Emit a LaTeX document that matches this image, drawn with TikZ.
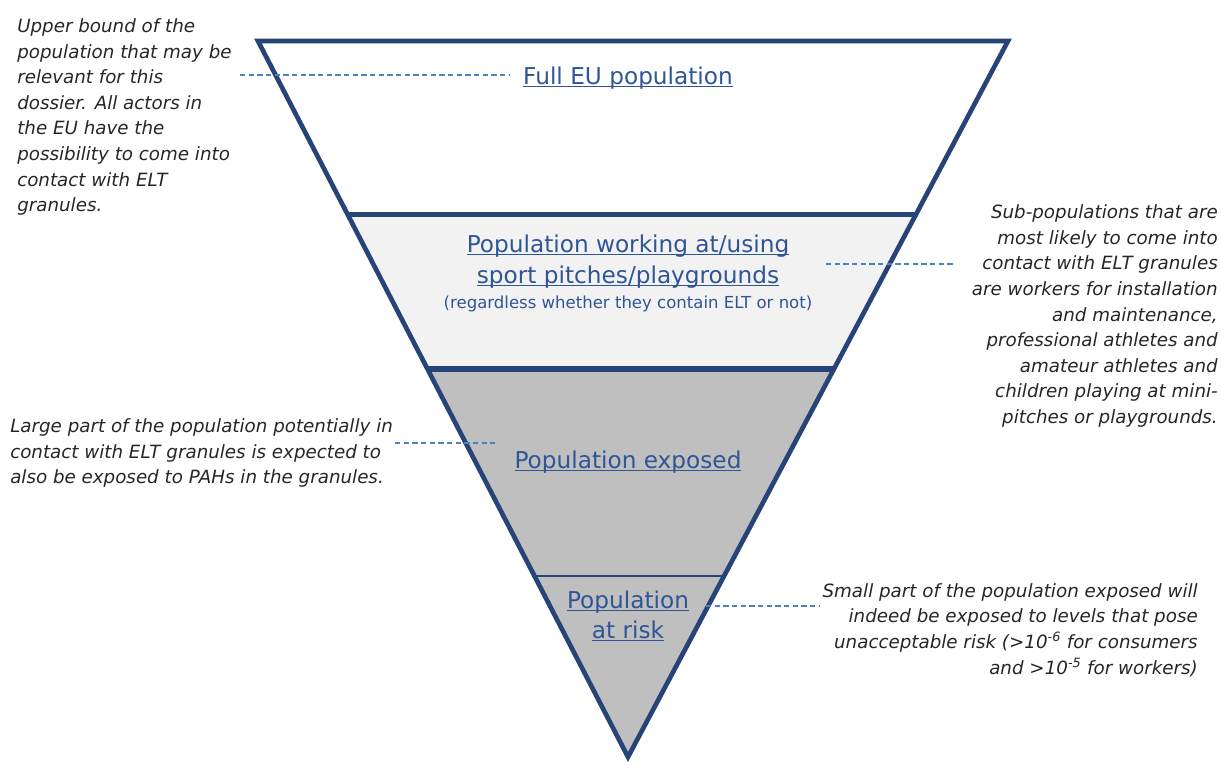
\documentclass[tikz,border=0pt]{standalone}
\usepackage{fontspec}
\setmainfont{DejaVu Sans}
\usetikzlibrary{positioning,calc}

\definecolor{rimblue}{RGB}{38,68,120}
\definecolor{lblblue}{RGB}{47,85,151}
\definecolor{leadblue}{RGB}{79,129,189}
\definecolor{bandlight}{RGB}{242,242,242}
\definecolor{bandgrey}{RGB}{191,191,191}
\newcommand{\ulab}[1]{\underline{\smash{#1}}}

\begin{document}
\begin{tikzpicture}[x=0.75pt,y=-0.75pt,
    lbl/.style={text=lblblue,font=\fontsize{17.4}{23.5}\selectfont,align=center,inner sep=0pt},
    note/.style={text=black!85,font=\itshape\fontsize{13.7}{19.2}\selectfont,inner sep=0pt},
    lead/.style={leadblue,line width=0.8pt,dash pattern=on 4pt off 2.5pt},
    rim/.style={rimblue,line width=3.5pt,line join=miter}]
    \useasboundingbox (0,0) rectangle (1221,765);

    \coordinate (tl)   at (258,41);
    \coordinate (tr)   at (1008,41);
    \coordinate (apex) at (628,757);
    \coordinate (a1) at ($(tl)!0.242!(apex)$);
    \coordinate (b1) at ($(tr)!0.242!(apex)$);
    \coordinate (a2) at ($(tl)!0.458!(apex)$);
    \coordinate (b2) at ($(tr)!0.458!(apex)$);
    \coordinate (a3) at ($(tl)!0.747!(apex)$);
    \coordinate (b3) at ($(tr)!0.747!(apex)$);

    % bands of the funnel
    \fill[bandlight] (a1) -- (b1) -- (b2) -- (a2) -- cycle;
    \fill[bandgrey]  (a2) -- (b2) -- (apex) -- cycle;
    \draw[rim] (tl) -- (tr) -- (apex) -- cycle;
    \draw[rimblue,line width=3.9pt] (a1) -- (b1);
    \draw[rimblue,line width=3.9pt] (a2) -- (b2);
    \draw[rimblue,line width=1.8pt] (a3) -- (b3);

    % labels in the funnel
    \node[lbl] (full) at (628,86)  {\ulab{Full EU population}};
    \node[lbl] (work) at (628,269.5) {\ulab{Population working at/using}\\\ulab{sport pitches/playgrounds}};
    \node[lbl,font=\fontsize{12.4}{14}\selectfont] (worknote) at (628,304) {(regardless whether they contain ELT or not)};
    \node[lbl] (expo) at (628,470) {\ulab{Population exposed}};
    \node[lbl] (risk) at (628,624.5) {\ulab{Population}\\[-1pt]\ulab{at risk}};

    % side notes
    \node[note,anchor=west,align=left] (upper) at (17,117)
        {Upper bound of the\\population that may be\\relevant for this\\dossier. All actors in\\the EU have the\\possibility to come into\\contact with ELT\\granules.};
    \node[note,anchor=east,align=right] (subpop) at (1218,316)
        {Sub-populations that are\\most likely to come into\\contact with ELT granules\\are workers for installation\\and maintenance,\\professional athletes and\\amateur athletes and\\children playing at mini-\\pitches or playgrounds.};
    \node[note,anchor=west,align=left] (large) at (10,453)
        {Large part of the population potentially in\\contact with ELT granules is expected to\\also be exposed to PAHs in the granules.};
    \node[note,anchor=east,align=right] (small) at (1198,630)
        {Small part of the population exposed will\\indeed be exposed to levels that pose\\unacceptable risk (>10\textsuperscript{-6} for consumers\\and >10\textsuperscript{-5} for workers)};

    % leaders
    \coordinate (u0) at (240,75);  \coordinate (u1) at (510,75);
    \coordinate (s0) at (826,264); \coordinate (s1) at (955,264);
    \coordinate (g0) at (395,443); \coordinate (g1) at (495,443);
    \coordinate (r0) at (706,606); \coordinate (r1) at (820,606);
    \draw[lead] (u0) -- (u1);
    \draw[lead] (s0) -- (s1);
    \draw[lead] (g0) -- (g1);
    \draw[lead] (r0) -- (r1);
\end{tikzpicture}
\end{document}
